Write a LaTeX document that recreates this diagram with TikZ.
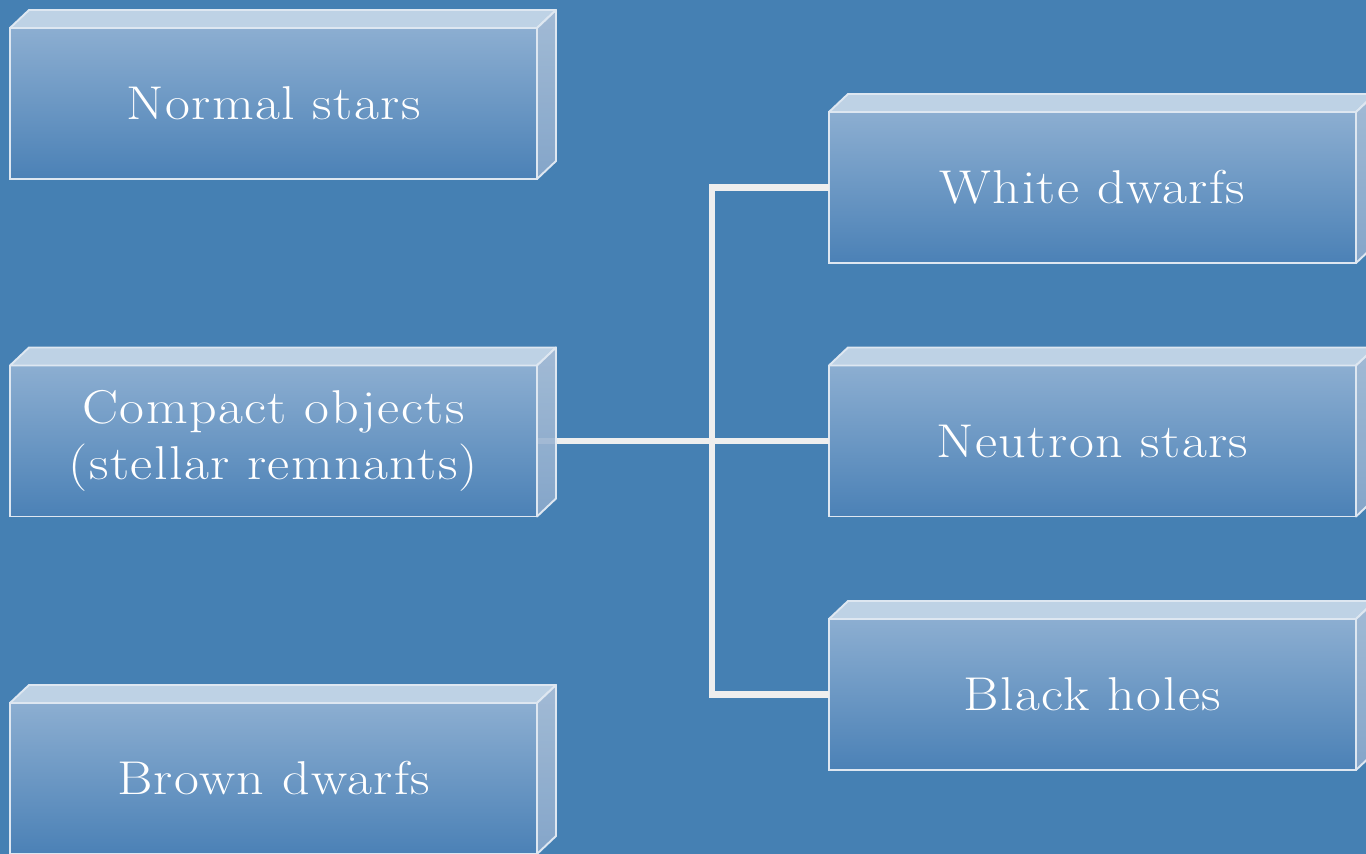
\documentclass[tikz,border=0pt]{standalone}
\usepackage{fontspec}
\setmainfont{Latin Modern Roman}[FakeStretch=1.14,LetterSpace=3]
\usepackage{tikz}
\definecolor{bgblue}{RGB}{69,128,179}
\definecolor{fronttop}{RGB}{140,174,209}
\definecolor{frontbot}{RGB}{75,129,182}
\definecolor{topcol}{RGB}{190,210,229}
\definecolor{sidetop}{RGB}{172,193,217}
\definecolor{sidebot}{RGB}{140,170,204}
\definecolor{rimcol}{RGB}{222,231,241}
\definecolor{wirecol}{RGB}{238,238,238}

\begin{document}
\begin{tikzpicture}[
  slab/.style={draw=rimcol,line width=1.1pt,top color=fronttop,bottom color=frontbot,
    minimum width=10.54cm,minimum height=3.02cm,outer sep=0pt,inner sep=0pt,
    text=white,align=center,font=\fontsize{27}{32}\selectfont},
  lid/.style={draw=rimcol,line width=1.1pt,fill=topcol,line join=round},
  flank/.style={draw=rimcol,line width=1.1pt,top color=sidetop,bottom color=sidebot,
    fill opacity=0.9,line join=round},
  wire/.style={draw=wirecol,line width=3.7pt}]
\fill[bgblue] (0,0) rectangle (27.32,-17.08);
\useasboundingbox (0,0) rectangle (27.32,-17.08);
% left column
\node[slab] (normal) at (5.47,-2.07) {Normal stars};
\node[slab] (compact) at (5.47,-8.82) {Compact objects\\(stellar remnants)};
\node[slab] (brown) at (5.47,-15.57) {Brown dwarfs};
% right column
\node[slab] (white) at (21.85,-3.75) {White dwarfs};
\node[slab] (neutron) at (21.85,-8.82) {Neutron stars};
\node[slab] (black) at (21.85,-13.89) {Black holes};
\draw[wire] (compact.east) -- (neutron.west);
\draw[wire] (white.west) -- ++(-2.34,0) |- (black.west);
\foreach \n in {normal,compact,brown,white,neutron,black}{
  \path[lid] (\n.north west) -- ++(0.38,0.36) -- ++(10.54,0) -- (\n.north east) -- cycle;
  \path[flank] (\n.north east) -- ++(0.38,0.36) -- ++(0,-3.02) -- (\n.south east) -- cycle;
}
\end{tikzpicture}
\end{document}
